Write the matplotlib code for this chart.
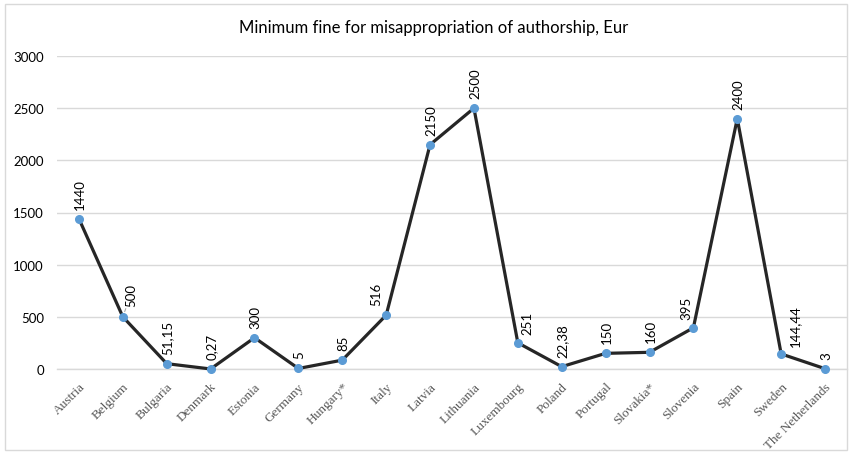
import matplotlib
matplotlib.use("Agg")
import matplotlib.pyplot as plt
from matplotlib.patches import Rectangle

countries = ["Austria", "Belgium", "Bulgaria", "Denmark", "Estonia", "Germany", "Hungary*",
             "Italy", "Latvia", "Lithuania", "Luxembourg", "Poland", "Portugal", "Slovakia*",
             "Slovenia", "Spain", "Sweden", "The Netherlands"]
values = [1440, 500, 51.15, 0.27, 300, 5, 85, 516, 2150, 2500, 251, 22.38, 150, 160, 395, 2400,
          144.44, 3]
labels = ["1440", "500", "51,15", "0,27", "300", "5", "85", "516", "2150", "2500", "251", "22,38",
          "150", "160", "395", "2400", "144,44", "3"]
yticks = [0, 500, 1000, 1500, 2000, 2500, 3000]

fig = plt.figure(figsize=(8.52, 4.56), dpi=100)
fig.patches.append(Rectangle((5/852, 5/456), 842/852, 446/456, transform=fig.transFigure,
                             fill=False, edgecolor="#d9d9d9", linewidth=1))
ax = fig.add_axes([57/852, 1 - 370/456, 790/852, (370 - 57)/456])

x = list(range(len(countries)))
ax.plot(x, values, color="#262626", linewidth=2.3, zorder=3, clip_on=False)
ax.plot(x, values, linestyle="none", marker="o", markersize=5.5, color="#5b9bd5",
        zorder=4, clip_on=False)

# label placement shifts (pixels) to keep labels clear of the line
px = 0.72
shift = {1: (8, 11), 7: (-10, 10), 10: (10, 9), 14: (-7, 9), 16: (14, 8)}
for xi, v, lab in zip(x, values, labels):
    dx, dy = shift.get(xi, (1, 10))
    kw = dict(textcoords="offset points", rotation=90, ha="center", va="bottom",
              fontsize=9.5, color="#000000", family="Lato")
    if xi == 1:
        kw["arrowprops"] = dict(arrowstyle="-", color="#a6a6a6", lw=0.8, shrinkA=0, shrinkB=4)
    ax.annotate(lab, (xi, v), xytext=(dx * px, dy * px), **kw)

ax.set_xlim(-0.5, len(countries) - 0.5)
ax.set_ylim(0, 3000)
ax.set_yticks(yticks)
ax.set_yticklabels([str(t) for t in yticks], fontsize=9.5, family="Lato")
ax.yaxis.grid(True, color="#d9d9d9", linewidth=1)
ax.axhline(0, color="#d9d9d9", linewidth=1, zorder=1, clip_on=False)
ax.set_axisbelow(True)
ax.set_xticks(x)
ax.set_xticklabels(countries, rotation=45, ha="right", rotation_mode="anchor",
                   fontsize=9.5, family="Liberation Serif", color="#595959")
ax.tick_params(axis="both", length=0)
ax.tick_params(axis="y", pad=9.5)
ax.tick_params(axis="x", pad=8)
for s in ax.spines.values():
    s.set_visible(False)

fig.text(434/852, 1 - 28/456, "Minimum fine for misappropriation of authorship, Eur",
         ha="center", va="center", fontsize=12, family="Lato", color="#000000")

fig.savefig("out.png", dpi=100)
